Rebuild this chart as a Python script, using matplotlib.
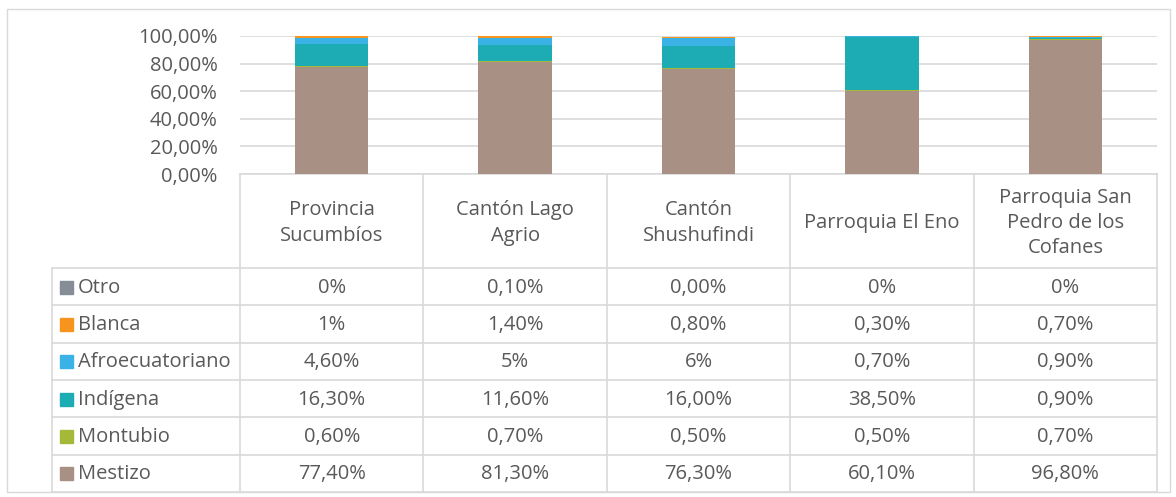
import numpy as np
import matplotlib.pyplot as plt
from matplotlib.patches import Rectangle

plt.rcParams['font.family'] = ['Open Sans', 'DejaVu Sans']

# data
places = ["Provincia\nSucumbíos", "Cantón Lago\nAgrio", "Cantón\nShushufindi",
          "Parroquia El Eno", "Parroquia San\nPedro de los\nCofanes"]
groups = ["Otro", "Blanca", "Afroecuatoriano", "Indígena", "Montubio", "Mestizo"]
otro = [0, 0.1, 0, 0, 0]
blanca = [1, 1.4, 0.8, 0.3, 0.7]
afro = [4.6, 5, 6, 0.7, 0.9]
indigena = [16.3, 11.6, 16.0, 38.5, 0.9]
montubio = [0.6, 0.7, 0.5, 0.5, 0.7]
mestizo = [77.4, 81.3, 76.3, 60.1, 96.8]
labels = {
    "Otro": ["0%", "0,10%", "0,00%", "0%", "0%"],
    "Blanca": ["1%", "1,40%", "0,80%", "0,30%", "0,70%"],
    "Afroecuatoriano": ["4,60%", "5%", "6%", "0,70%", "0,90%"],
    "Indígena": ["16,30%", "11,60%", "16,00%", "38,50%", "0,90%"],
    "Montubio": ["0,60%", "0,70%", "0,50%", "0,50%", "0,70%"],
    "Mestizo": ["77,40%", "81,30%", "76,30%", "60,10%", "96,80%"],
}
colors = {
    "Otro": "#868D96",
    "Blanca": "#F7941D",
    "Afroecuatoriano": "#3BB2E6",
    "Indígena": "#1DACB4",
    "Montubio": "#A6B83A",
    "Mestizo": "#A99084",
}
series = {"Otro": otro, "Blanca": blanca, "Afroecuatoriano": afro,
          "Indígena": indigena, "Montubio": montubio, "Mestizo": mestizo}

W, H = 1176, 497
TXT = "#595959"
LINE = "#D9D9D9"
FS = 14.5

fig = plt.figure(figsize=(W / 100, H / 100), dpi=100)

# overlay in pixel coords for the frame and data table
bg = fig.add_axes([0, 0, 1, 1])
bg.set_xlim(0, W)
bg.set_ylim(H, 0)
bg.axis("off")
bg.add_patch(Rectangle((7, 9), 1163, 483, fill=False, edgecolor=LINE, lw=1))

x0, x1 = 240, 1157
y_axis = 174
y_head = 268
row_h = 37.3
leg_x = 52
col_w = (x1 - x0) / len(places)

ax = fig.add_axes([x0 / W, 1 - 174 / H, (x1 - x0) / W, 138 / H])
x = np.arange(len(places))
bottom = np.zeros(len(places))
for g in reversed(groups):
    vals = np.array(series[g]) / 100
    ax.bar(x, vals, 0.4, bottom=bottom, color=colors[g], linewidth=0, zorder=3)
    bottom += vals
ax.set_xlim(-0.5, len(places) - 0.5)
ax.set_ylim(0, 1)
ax.set_yticks(np.arange(0, 1.01, 0.2))
ax.set_yticklabels([f"{v:.2f}%".replace(".", ",") for v in np.arange(0, 101, 20)],
                   color=TXT, fontsize=FS)
ax.tick_params(axis="y", length=0, pad=16)
ax.set_xticks([])
ax.grid(axis="y", color=LINE, lw=1.2, zorder=0)
for s in ax.spines.values():
    s.set_visible(False)
ax.patch.set_alpha(0)

# table lines
bg.plot([x0, x1], [y_axis, y_axis], color=LINE, lw=1.2)
n_rows = len(groups)
for i in range(n_rows + 1):
    y = y_head + i * row_h
    bg.plot([leg_x, x1], [y, y], color=LINE, lw=1.2)
for j in range(len(places) + 1):
    xx = x0 + j * col_w
    bg.plot([xx, xx], [y_axis, y_head + n_rows * row_h], color=LINE, lw=1.2)
bg.plot([leg_x, leg_x], [y_head, y_head + n_rows * row_h], color=LINE, lw=1.2)

# header
for j, p in enumerate(places):
    bg.text(x0 + (j + 0.5) * col_w, (y_axis + y_head) / 2 + 2, p, ha="center",
            va="center", fontsize=FS, color=TXT, linespacing=1.35)

# rows
for i, g in enumerate(groups):
    yc = y_head + (i + 0.5) * row_h + 1
    bg.add_patch(Rectangle((leg_x + 8, yc - 7), 13, 13, color=colors[g]))
    bg.text(leg_x + 26, yc, g, ha="left", va="center", fontsize=FS, color=TXT)
    for j, lab in enumerate(labels[g]):
        bg.text(x0 + (j + 0.5) * col_w, yc, lab, ha="center", va="center",
                fontsize=FS, color=TXT)

fig.savefig("out.png", dpi=100)
